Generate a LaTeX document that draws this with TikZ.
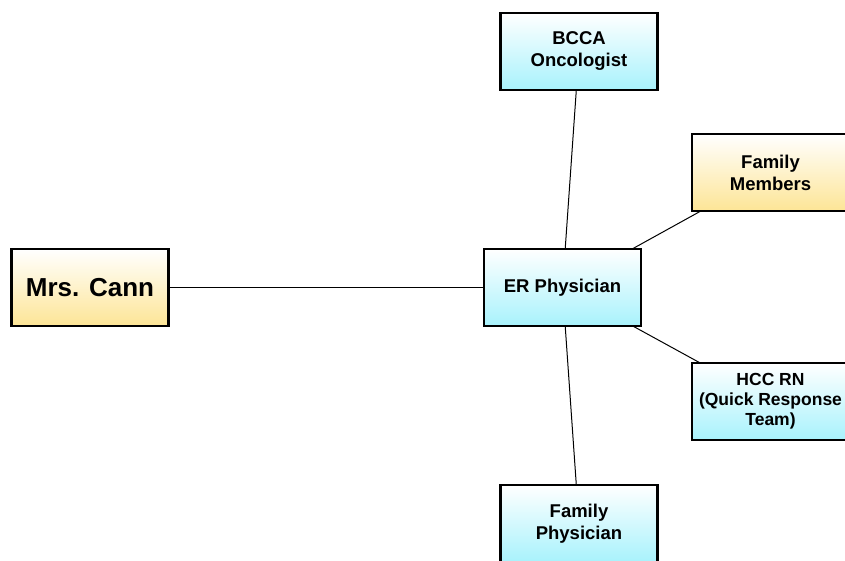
\documentclass[tikz,border=0pt]{standalone}
\usepackage{fontspec}
\setmainfont{Liberation Sans}
\begin{document}
\begin{tikzpicture}[x=1pt,y=-1pt,
  box/.style={draw=black, line width=2.6pt, minimum width=157pt, minimum height=77pt,
    inner sep=0pt, align=center, font=\bfseries\fontsize{18.5}{22}\selectfont, top color=white},
  ybox/.style={box, bottom color=yelB},
  cbox/.style={box, bottom color=cyaB},
  link/.style={draw=black, line width=1pt}]
\definecolor{yelB}{RGB}{253,229,150}
\definecolor{cyaB}{RGB}{168,242,252}
\useasboundingbox (0,0) rectangle (845,561);
\clip (0,0) rectangle (845,561);
\coordinate (cann) at (90,287.5);
\coordinate (er) at (562.5,287.5);
\coordinate (bcca) at (579,51.5);
\coordinate (fam) at (770.5,172.5);
\coordinate (hcc) at (770.5,401.5);
\coordinate (fp) at (579,523.5);
\draw[link] (cann) -- (er);
\draw[link] (er) -- (bcca);
\draw[link] (er) -- (fam);
\draw[link] (er) -- (hcc);
\draw[link] (er) -- (fp);
\node[ybox, font=\bfseries\fontsize{26}{30}\selectfont] (n1) at (cann) {Mrs. Cann};
\node[cbox] (n2) at (er) {ER Physician};
\node[cbox] (n3) at (bcca) {BCCA\\Oncologist};
\node[ybox] (n4) at (fam) {Family\\Members};
\node[cbox, font=\bfseries\fontsize{17.5}{20}\selectfont] (n5) at (hcc) {HCC RN\\(Quick Response\\Team)};
\node[cbox] (n6) at (fp) {Family\\Physician};
\end{tikzpicture}
\end{document}
